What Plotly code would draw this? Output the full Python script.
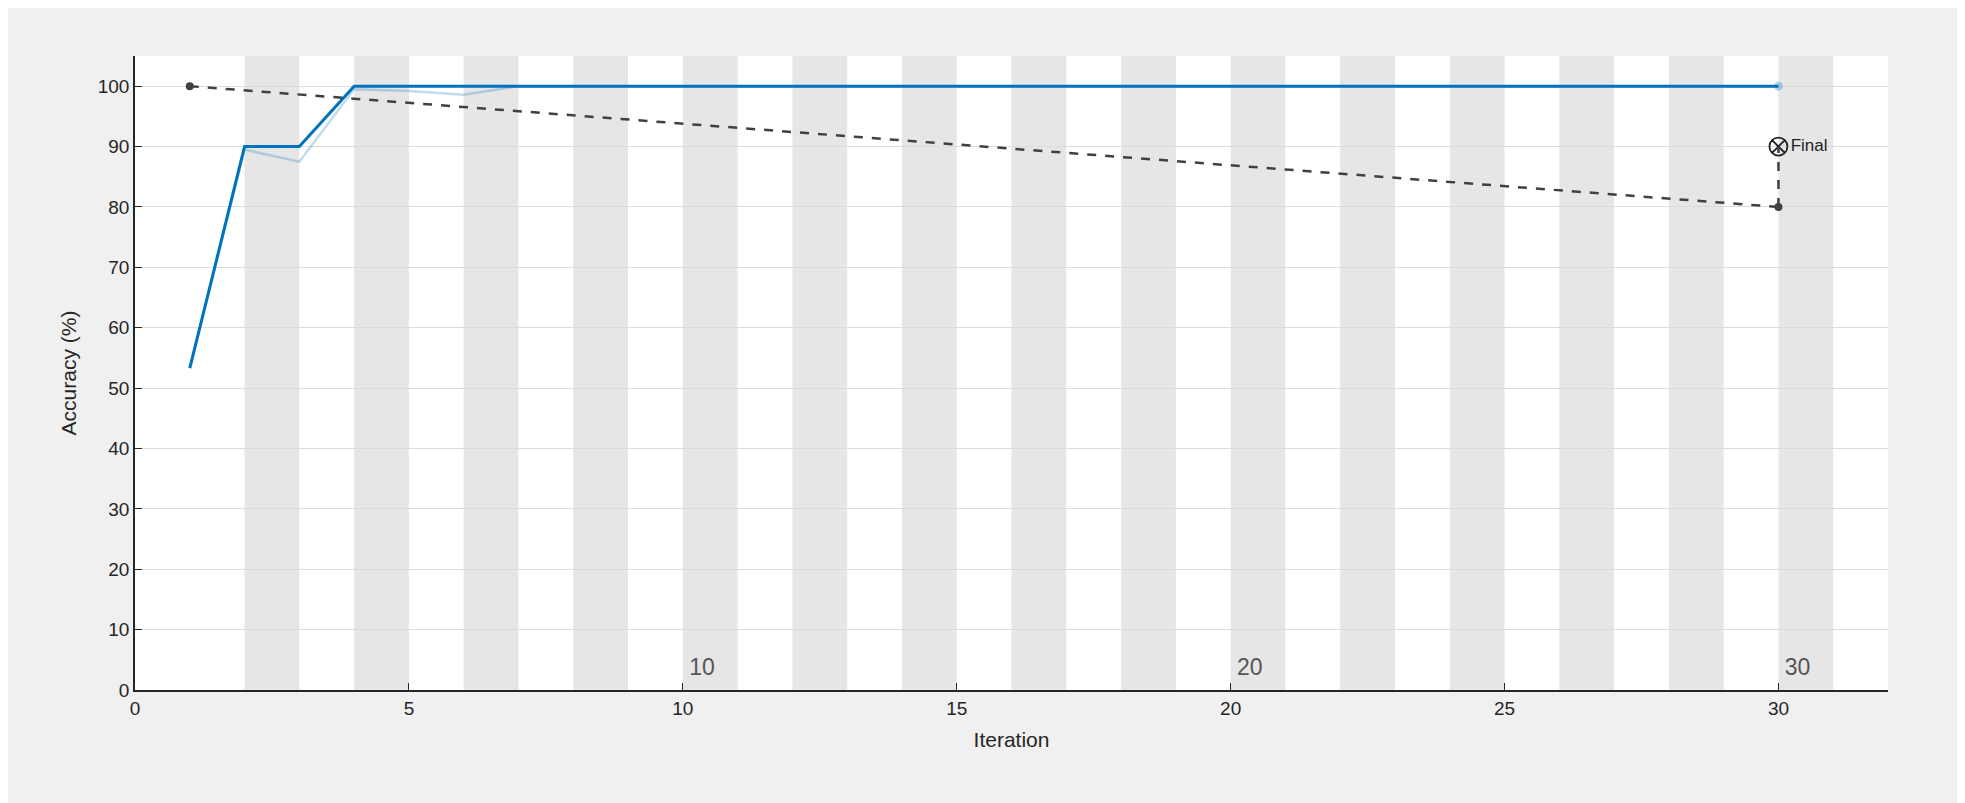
import plotly.graph_objects as go

iterations = list(range(1, 31))
accuracy = [53.3, 90, 90] + [100] * 27
smoothed = [53.3, 89.5, 87.5, 99.5, 99.2, 98.6, 100] + [100] * 23
val_x = [1, 30]
val_y = [100, 80]
final_x = [30]
final_y = [90]
epoch_labels = ["10", "20", "30"]
epoch_pos = [10.35, 20.35, 30.35]

fig = go.Figure()
shapes = []
for s in range(2, 31, 2):
    shapes.append(dict(type="rect", xref="x", yref="y", x0=s, x1=s + 1, y0=0, y1=105,
                       fillcolor="#e6e6e6", line_width=0, layer="below"))
shapes.append(dict(type="line", xref="x", yref="y", x0=30, x1=30, y0=80, y1=90,
                   line=dict(color="#404040", width=2.5, dash="dash")))

fig.add_trace(go.Scatter(x=iterations, y=smoothed, mode="lines",
                         line=dict(color="rgba(0,114,189,0.25)", width=2.5), showlegend=False))
fig.add_trace(go.Scatter(x=iterations, y=accuracy, mode="lines",
                         line=dict(color="#0072bd", width=3), showlegend=False))
fig.add_trace(go.Scatter(x=[30], y=[100], mode="markers",
                         marker=dict(color="rgba(0,114,189,0.3)", size=9), showlegend=False))
fig.add_trace(go.Scatter(x=val_x, y=val_y, mode="lines+markers",
                         line=dict(color="#404040", width=2.5, dash="dash"),
                         marker=dict(color="#404040", size=8), showlegend=False))
fig.add_trace(go.Scatter(x=final_x, y=final_y, mode="markers+text", text=["Final"],
                         textposition="middle right", textfont=dict(size=17, color="#222"),
                         marker=dict(color="rgba(0,0,0,0)", size=18, symbol="circle-x",
                                     line=dict(color="#222", width=1.8)), showlegend=False))
fig.add_trace(go.Scatter(x=epoch_pos, y=[3.5] * 3, mode="text", text=epoch_labels,
                         textfont=dict(size=23, color="#555"), showlegend=False))

fig.update_layout(
    width=1965, height=803, paper_bgcolor="#f0f0f0", plot_bgcolor="white",
    margin=dict(l=127, r=85, t=48, b=121), shapes=shapes,
    font=dict(family="Liberation Sans, Arial", size=19, color="#262626"),
    xaxis=dict(range=[0, 32], tickvals=[0, 5, 10, 15, 20, 25, 30], showgrid=False,
               showline=True, linecolor="#262626", linewidth=1.5, ticks="inside", ticklen=7,
               tickcolor="#262626", zeroline=False,
               title=dict(text="Iteration", font=dict(size=21))),
    yaxis=dict(range=[0, 105], tickvals=list(range(0, 101, 10)), showgrid=True,
               gridcolor="#dcdcdc", showline=True, linecolor="#262626", linewidth=1.5,
               ticks="inside", ticklen=7, tickcolor="#262626", zeroline=False,
               title=dict(text="Accuracy (%)", font=dict(size=21))),
)
fig.write_html("out.html")
